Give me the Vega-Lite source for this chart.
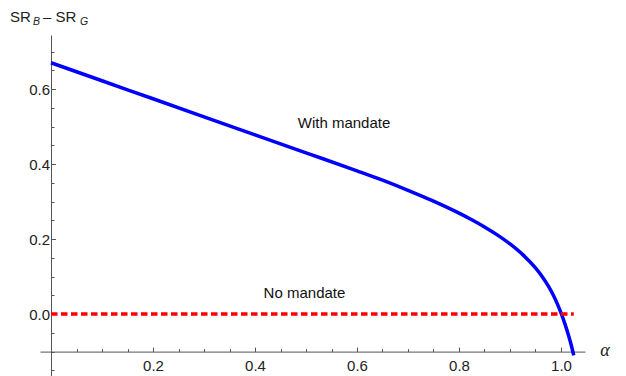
{
  "$schema": "https://vega.github.io/schema/vega-lite/v6.json",
  "width": 545,
  "height": 341,
  "autosize": {"type": "none"},
  "padding": {"left": 40, "top": 35, "right": 41, "bottom": 0},
  "config": {"view": {"stroke": null}, "font": "Liberation Sans"},
  "datasets": {
    "curve": [
      {"alpha": 0, "value": 0.670},
      {"alpha": 0.1, "value": 0.622},
      {"alpha": 0.2, "value": 0.574},
      {"alpha": 0.3, "value": 0.526},
      {"alpha": 0.4, "value": 0.478},
      {"alpha": 0.5, "value": 0.430},
      {"alpha": 0.6, "value": 0.382},
      {"alpha": 0.65, "value": 0.357},
      {"alpha": 0.7, "value": 0.330},
      {"alpha": 0.75, "value": 0.301},
      {"alpha": 0.8, "value": 0.269},
      {"alpha": 0.825, "value": 0.2515},
      {"alpha": 0.85, "value": 0.2325},
      {"alpha": 0.875, "value": 0.2113},
      {"alpha": 0.9, "value": 0.1870},
      {"alpha": 0.925, "value": 0.1585},
      {"alpha": 0.95, "value": 0.1230},
      {"alpha": 0.965, "value": 0.0963},
      {"alpha": 0.975, "value": 0.0751},
      {"alpha": 0.985, "value": 0.0501},
      {"alpha": 0.993, "value": 0.0265},
      {"alpha": 1.0, "value": 0.003},
      {"alpha": 1.008, "value": -0.0274},
      {"alpha": 1.016, "value": -0.0626},
      {"alpha": 1.021, "value": -0.0876},
      {"alpha": 1.025, "value": -0.110}
    ],
    "nomandate": [
      {"alpha": 0, "value": 0},
      {"alpha": 1.025, "value": 0}
    ]
  },
  "layer": [
    {
      "data": {"name": "curve"},
      "mark": {"type": "line", "color": "#0000FF", "strokeWidth": 3.5, "interpolate": "monotone"},
      "encoding": {
        "x": {
          "field": "alpha", "type": "quantitative",
          "scale": {"domain": [-0.02157, 1.04706], "nice": false, "zero": false},
          "axis": {
            "title": null, "orient": "bottom", "offset": -24.4, "grid": false, "tickCount": 200,
            "values": [0.05, 0.1, 0.15, 0.2, 0.25, 0.3, 0.35, 0.4, 0.45, 0.5, 0.55, 0.6, 0.65, 0.7, 0.75, 0.8, 0.85, 0.9, 0.95, 1.0],
            "labelExpr": "abs(datum.value*5 - round(datum.value*5)) < 0.001 ? format(datum.value, '.1f') : ''",
            "tickSize": {"condition": {"test": "abs(datum.value*5 - round(datum.value*5)) < 0.001", "value": -4.5}, "value": -3},
            "domainColor": "#555", "tickColor": "#555", "labelColor": "#222",
            "labelFontSize": 15, "labelPadding": 11, "labelFlush": false, "labelOverlap": false,
            "domainWidth": 1, "tickWidth": 1
          }
        },
        "y": {
          "field": "value", "type": "quantitative",
          "scale": {"domain": [-0.165, 0.744], "nice": false, "zero": false},
          "axis": {
            "title": null, "orient": "left", "offset": -11, "grid": false, "tickCount": 200,
            "values": [-0.15, -0.1, -0.05, 0, 0.05, 0.1, 0.15, 0.2, 0.25, 0.3, 0.35, 0.4, 0.45, 0.5, 0.55, 0.6, 0.65, 0.7],
            "labelExpr": "(datum.value >= 0 && abs(datum.value*5 - round(datum.value*5)) < 0.001) ? format(datum.value, '.1f') : ''",
            "tickSize": {"condition": {"test": "abs(datum.value*5 - round(datum.value*5)) < 0.001", "value": -4.5}, "value": -3},
            "domainColor": "#555", "tickColor": "#555", "labelColor": "#222",
            "labelFontSize": 15, "labelPadding": 6, "labelFlush": false, "labelOverlap": false,
            "domainWidth": 1, "tickWidth": 1
          }
        }
      }
    },
    {
      "data": {"name": "nomandate"},
      "mark": {"type": "line", "color": "#FF0000", "strokeWidth": 3.5, "strokeDash": [6.5, 3.5]},
      "encoding": {
        "x": {"field": "alpha", "type": "quantitative"},
        "y": {"field": "value", "type": "quantitative"}
      }
    },
    {
      "data": {"values": [{}]},
      "mark": {"type": "text", "text": "With mandate", "fontSize": 15, "align": "center", "baseline": "alphabetic", "color": "#111"},
      "encoding": {"x": {"datum": 0.5745}, "y": {"datum": 0.496}}
    },
    {
      "data": {"values": [{}]},
      "mark": {"type": "text", "text": "No mandate", "fontSize": 15, "align": "center", "baseline": "alphabetic", "color": "#111"},
      "encoding": {"x": {"datum": 0.497}, "y": {"datum": 0.042}}
    },
    {
      "data": {"values": [{}]},
      "mark": {"type": "text", "text": "α", "font": "Liberation Serif", "fontStyle": "italic", "fontSize": 18, "align": "center", "baseline": "alphabetic", "color": "#222"},
      "encoding": {"x": {"datum": 1.0863}, "y": {"datum": -0.1117}}
    },
    {
      "data": {"values": [{}]},
      "mark": {"type": "text", "text": "SR", "fontSize": 15, "align": "left", "baseline": "alphabetic", "color": "#222"},
      "encoding": {"x": {"datum": -0.0804}, "y": {"datum": 0.7779}}
    },
    {
      "data": {"values": [{}]},
      "mark": {"type": "text", "text": "B", "fontSize": 10.5, "fontStyle": "italic", "align": "left", "baseline": "alphabetic", "color": "#222"},
      "encoding": {"x": {"datum": -0.0353}, "y": {"datum": 0.7707}}
    },
    {
      "data": {"values": [{}]},
      "mark": {"type": "text", "text": "– SR", "fontSize": 15, "align": "left", "baseline": "alphabetic", "color": "#222"},
      "encoding": {"x": {"datum": -0.0157}, "y": {"datum": 0.7779}}
    },
    {
      "data": {"values": [{}]},
      "mark": {"type": "text", "text": "G", "fontSize": 10.5, "fontStyle": "italic", "align": "left", "baseline": "alphabetic", "color": "#222"},
      "encoding": {"x": {"datum": 0.0569}, "y": {"datum": 0.7707}}
    }
  ]
}
